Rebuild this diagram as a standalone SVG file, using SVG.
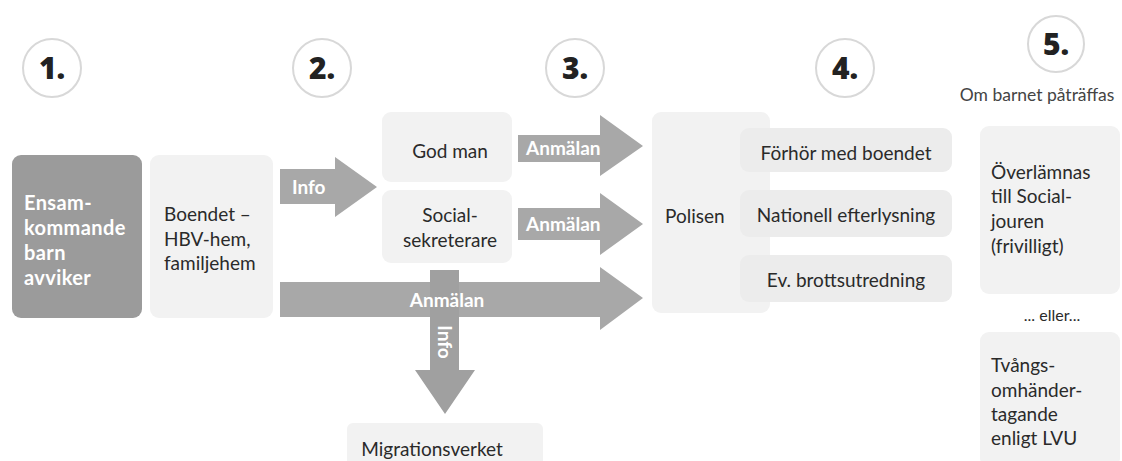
<svg xmlns="http://www.w3.org/2000/svg" width="1122" height="461" viewBox="0 0 1122 461">
<style>
.num{font-family:"Open Sans","Liberation Sans",sans-serif;font-weight:800;font-size:30px;fill:#222;text-anchor:middle}
.circ{fill:#fff;stroke:#d8d8d8;stroke-width:2}
.t{font-family:Lato,"Liberation Sans",sans-serif;font-size:19px;fill:#2a2a2a}
.tc{text-anchor:middle}
.w{font-family:Lato,"Liberation Sans",sans-serif;font-size:19px;fill:#fff;font-weight:700}
.light{fill:#f2f2f2}
.light2{fill:#ececec}
.arr{fill:#a8a8a8}
</style>
<rect width="1122" height="461" fill="#fff"/>
<g id="steps">
<circle class="circ" cx="52" cy="68" r="29"/><text class="num" x="52" y="79">1.</text>
<circle class="circ" cx="322" cy="68" r="29"/><text class="num" x="322" y="79">2.</text>
<circle class="circ" cx="575" cy="68" r="29"/><text class="num" x="575" y="79">3.</text>
<circle class="circ" cx="845" cy="68" r="29"/><text class="num" x="845" y="79">4.</text>
<circle class="circ" cx="1056" cy="44" r="28"/><text class="num" x="1056" y="55">5.</text>
<text class="t tc" x="1037" y="101" style="font-size:17.5px;fill:#444">Om barnet påträffas</text>
</g>
<g id="connectors">
<path class="arr" d="M280,169 H335 V157 L377,187 L335,217 V204 H280 Z"/>
<text class="w" x="292" y="194">Info</text>
<path class="arr" d="M518,135 H600 V115 L643,146 L600,176 V162 H518 Z"/>
<text class="w" x="526" y="155">Anmälan</text>
<path class="arr" d="M518,208 H600 V193 L643,224 L600,255 V240 H518 Z"/>
<text class="w" x="526" y="231">Anmälan</text>
<path class="arr" d="M280,282 H600 V267 L643,298 L600,330 V317 H280 Z"/>
<path d="M430,270 H459 V370 H475 L445,414 L415,370 H430 Z" fill="#a0a0a0"/>
<text class="w tc" x="447" y="307">Anmälan</text>
<text class="w tc" transform="translate(438,342) rotate(90)">Info</text>
</g>
<g id="n1">
<rect x="12" y="155" width="130" height="163" rx="9" fill="#9b9b9b"/>
<text class="w" x="24" y="210" style="font-size:20px;letter-spacing:0.4px">Ensam-</text>
<text class="w" x="24" y="235" style="font-size:20px;letter-spacing:0.4px">kommande</text>
<text class="w" x="24" y="260" style="font-size:20px;letter-spacing:0.4px">barn</text>
<text class="w" x="24" y="285" style="font-size:20px;letter-spacing:0.4px">avviker</text>
</g>
<g id="n2">
<rect class="light" x="150" y="155" width="123" height="163" rx="9"/>
<text class="t" x="164" y="221">Boendet –</text>
<text class="t" x="164" y="246">HBV-hem,</text>
<text class="t" x="164" y="270">familjehem</text>
</g>
<g id="godman">
<rect class="light" x="382" y="112" width="130" height="70" rx="9"/>
<text class="t tc" x="450" y="158">God man</text>
</g>
<g id="social">
<rect class="light" x="382" y="190" width="130" height="73" rx="9"/>
<text class="t tc" x="450" y="222">Social-</text>
<text class="t tc" x="450" y="247">sekreterare</text>
</g>
<g id="migration">
<rect class="light" x="347" y="423" width="196" height="45" rx="6"/>
<text class="t tc" x="432" y="456">Migrationsverket</text>
</g>
<g id="polisen">
<rect class="light" x="652" y="112" width="118" height="201" rx="9"/>
<text class="t" x="665" y="223">Polisen</text>
</g>
<g id="forhor">
<rect class="light2" x="740" y="128" width="212" height="44" rx="9"/>
<text class="t tc" x="846" y="160">Förhör med boendet</text>
</g>
<g id="efterlysning">
<rect class="light2" x="740" y="190" width="212" height="47" rx="9"/>
<text class="t tc" x="846" y="222">Nationell efterlysning</text>
</g>
<g id="brott">
<rect class="light2" x="740" y="255" width="212" height="47" rx="9"/>
<text class="t tc" x="846" y="287">Ev. brottsutredning</text>
</g>
<g id="overlamnas">
<rect class="light" x="980" y="126" width="140" height="168" rx="9"/>
<text class="t" x="991" y="179">Överlämnas</text>
<text class="t" x="991" y="203">till Social-</text>
<text class="t" x="991" y="228">jouren</text>
<text class="t" x="991" y="253">(frivilligt)</text>
</g>
<text class="t tc" x="1052" y="321" style="font-size:16px">... eller...</text>
<g id="tvang">
<rect class="light" x="980" y="332" width="140" height="135" rx="9"/>
<text class="t" x="991" y="372">Tvångs-</text>
<text class="t" x="991" y="397">omhänder-</text>
<text class="t" x="991" y="421">tagande</text>
<text class="t" x="991" y="445">enligt LVU</text>
</g>
</svg>
